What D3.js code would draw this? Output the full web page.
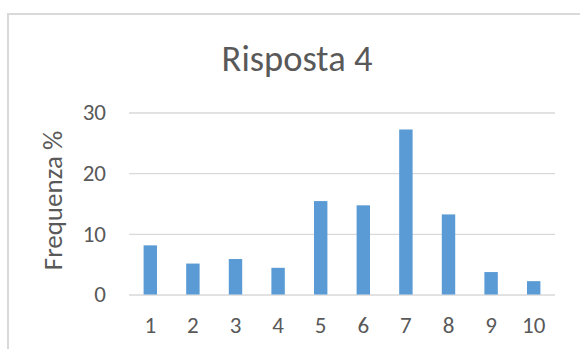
<!DOCTYPE html>
<html>
<head>
<meta charset="utf-8">
<script src="https://cdn.jsdelivr.net/npm/d3@7/dist/d3.min.js"></script>
<style>
  html, body { margin: 0; padding: 0; background: #fff; }
  svg { display: block; }
  text { font-family: Carlito, Calibri, Lato, sans-serif; fill: #595959; }
</style>
</head>
<body>
<script>
// Answer scores 1–10 and the share of responses for each (percent)
const categories = ["1", "2", "3", "4", "5", "6", "7", "8", "9", "10"];
const frequency = [8.1, 5.1, 5.85, 4.4, 15.4, 14.7, 27.2, 13.2, 3.7, 2.2];
const yTicks = [0, 10, 20, 30];
const chartTitle = "Risposta 4";
const yTitle = "Frequenza %";

const W = 580, H = 349;
const plot = { left: 129, right: 555, top: 112.5, bottom: 294.5 };

const svg = d3.select("body").append("svg")
  .attr("width", W).attr("height", H);

// chart area frame
svg.append("rect")
  .attr("x", 8).attr("y", 14)
  .attr("width", W + 20).attr("height", H + 20)
  .attr("fill", "#fff")
  .attr("stroke", "#d9d9d9").attr("stroke-width", 2);

const x = d3.scaleBand()
  .domain(categories)
  .range([plot.left, plot.right])
  .paddingInner(0.685)
  .paddingOuter(0.3425);

const y = d3.scaleLinear()
  .domain([0, 30])
  .range([plot.bottom, plot.top]);

// horizontal gridlines
const yAxis = d3.axisLeft(y)
  .tickValues(yTicks)
  .tickSize(-(plot.right - plot.left))
  .tickPadding(23);

const gy = svg.append("g")
  .attr("transform", `translate(${plot.left},0)`)
  .call(yAxis);
gy.select(".domain").remove();
gy.selectAll(".tick line").attr("stroke", "#d9d9d9").attr("stroke-width", 1.3);
gy.selectAll(".tick text")
  .attr("fill", "#595959")
  .style("font-size", "23px");

// bars
svg.append("g").selectAll("rect")
  .data(frequency)
  .join("rect")
  .attr("x", (d, i) => x(categories[i]))
  .attr("width", x.bandwidth())
  .attr("y", d => y(d))
  .attr("height", d => y(0) - y(d))
  .attr("fill", "#5b9bd5");

// category axis (labels only)
const xAxis = d3.axisBottom(x).tickSize(0).tickPadding(22);
const gx = svg.append("g")
  .attr("transform", `translate(0,${plot.bottom})`)
  .call(xAxis);
gx.select(".domain").remove();
gx.selectAll(".tick text")
  .attr("fill", "#595959")
  .style("font-size", "23px");

// titles
svg.append("text")
  .attr("x", 297).attr("y", 71)
  .attr("text-anchor", "middle")
  .style("font-size", "36.5px")
  .text(chartTitle);

svg.append("text")
  .attr("transform", `translate(62,${(plot.top + plot.bottom) / 2 - 3}) rotate(-90)`)
  .attr("text-anchor", "middle")
  .style("font-size", "27px")
  .text(yTitle);
</script>
</body>
</html>
